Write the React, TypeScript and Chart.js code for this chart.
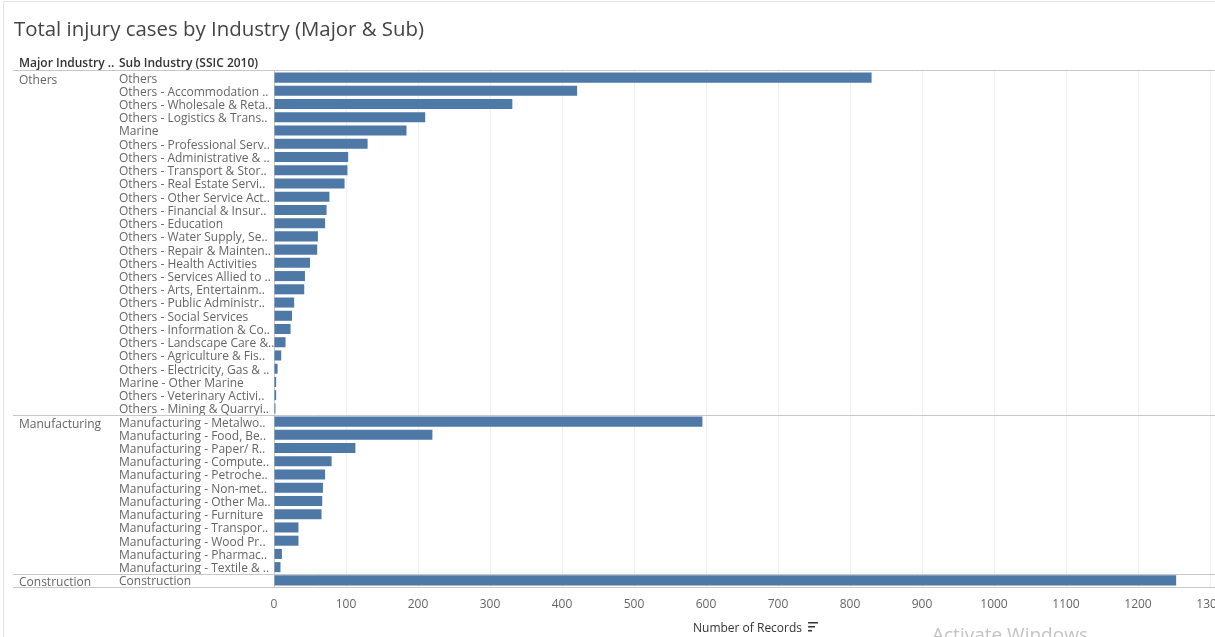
import { useEffect, useRef } from 'react';
import { Chart, registerables } from 'chart.js';

Chart.register(...registerables);

const chartTitle = 'Total injury cases by Industry (Major & Sub)';
const headerMajor = 'Major Industry ..';
const headerSub = 'Sub Industry (SSIC 2010)';
const axisTitle = 'Number of Records';

const majorIndustries = ['Others', 'Manufacturing', 'Construction'];
const majorRowCounts = [26, 12, 1];

const subIndustries = [
  'Others',
  'Others - Accommodation ..',
  'Others - Wholesale & Reta..',
  'Others - Logistics & Trans..',
  'Marine',
  'Others - Professional Serv..',
  'Others - Administrative & ..',
  'Others - Transport & Stor..',
  'Others - Real Estate Servi..',
  'Others - Other Service Act..',
  'Others - Financial & Insur..',
  'Others - Education',
  'Others - Water Supply, Se..',
  'Others - Repair & Mainten..',
  'Others - Health Activities',
  'Others - Services Allied to ..',
  'Others - Arts, Entertainm..',
  'Others - Public Administr..',
  'Others - Social Services',
  'Others - Information & Co..',
  'Others - Landscape Care &..',
  'Others - Agriculture & Fis..',
  'Others - Electricity, Gas & ..',
  'Marine - Other Marine',
  'Others - Veterinary Activi..',
  'Others - Mining & Quarryi..',
  'Manufacturing - Metalwo..',
  'Manufacturing - Food, Be..',
  'Manufacturing - Paper/ R..',
  'Manufacturing - Compute..',
  'Manufacturing - Petroche..',
  'Manufacturing - Non-met..',
  'Manufacturing - Other Ma..',
  'Manufacturing - Furniture',
  'Manufacturing - Transpor..',
  'Manufacturing - Wood Pr..',
  'Manufacturing - Pharmac..',
  'Manufacturing - Textile & ..',
  'Construction',
];

const recordCounts = [
  830, 421, 331, 210, 184, 130, 103, 102, 98, 77, 73, 71, 61, 60, 50, 43, 42, 28, 25, 23, 16, 10, 5, 3, 3, 2,
  595, 220, 113, 80, 71, 68, 67, 66, 34, 34, 11, 9,
  1253,
];

const xMin = 0;
const xMax = 1300;
const xStep = 100;

const FONT = '"Open Sans", "Noto Sans", sans-serif';
const W = 1215;
const H = 637;

const decorPlugin = {
  id: 'decor',
  afterDraw(chart: any) {
    const ctx = chart.ctx as CanvasRenderingContext2D;
    const { top, bottom } = chart.chartArea;
    const rowH = (bottom - top) / subIndustries.length;
    ctx.save();

    // outer frame
    ctx.strokeStyle = '#e3e3e3';
    ctx.lineWidth = 1;
    ctx.beginPath();
    ctx.moveTo(3.5, H);
    ctx.lineTo(3.5, 1.5);
    ctx.lineTo(W, 1.5);
    ctx.stroke();

    // title
    ctx.textAlign = 'left';
    ctx.textBaseline = 'middle';
    ctx.fillStyle = '#444444';
    ctx.font = `20.4px ${FONT}`;
    ctx.fillText(chartTitle, 14, 30);

    // headers
    ctx.fillStyle = '#333333';
    ctx.font = `600 12px ${FONT}`;
    ctx.fillText(headerMajor, 19, 63.5);
    ctx.fillText(headerSub, 119, 63.5);

    // separators + major labels
    const hline = (y: number) => {
      const yy = Math.round(y) + 0.5;
      ctx.beginPath();
      ctx.moveTo(13, yy);
      ctx.lineTo(W, yy);
      ctx.stroke();
    };
    ctx.strokeStyle = '#c8c8c8';
    hline(top - 1);
    ctx.fillStyle = '#666666';
    ctx.font = `12px ${FONT}`;
    let row = 0;
    majorIndustries.forEach((m, i) => {
      const rowTop = top + row * rowH;
      ctx.fillText(m, 19, rowTop + (majorRowCounts[i] > 1 ? 10 : 9));
      row += majorRowCounts[i];
      hline(top + row * rowH);
    });

    // axis title with sort icon
    ctx.fillStyle = '#333333';
    ctx.font = `12px ${FONT}`;
    ctx.fillText(axisTitle, 693, 628.5);
    const tw = ctx.measureText(axisTitle).width;
    const ix = 693 + tw + 6;
    ctx.fillRect(ix, 622, 10, 1.5);
    ctx.fillRect(ix, 626, 7, 1.5);
    ctx.fillRect(ix, 630, 4, 1.5);

    // watermark
    ctx.fillStyle = '#c4c4c4';
    ctx.font = `19px "Open Sans", sans-serif`;
    ctx.textBaseline = 'alphabetic';
    ctx.fillText('Activate Windows', 932, 641);

    ctx.restore();
  },
};

export default function App() {
  const ref = useRef<HTMLCanvasElement>(null);

  useEffect(() => {
    const canvas = ref.current;
    if (!canvas) return;
    const chart = new Chart(canvas, {
      type: 'bar',
      data: {
        labels: subIndustries,
        datasets: [
          {
            data: recordCounts,
            backgroundColor: '#4e79a7',
            barPercentage: 0.76,
            categoryPercentage: 1,
          },
        ],
      },
      options: {
        indexAxis: 'y',
        responsive: false,
        animation: false,
        devicePixelRatio: 1,
        layout: { padding: { left: 119, right: 5, top: 71, bottom: 0 } },
        plugins: {
          legend: { display: false },
          tooltip: { enabled: false },
          title: { display: false },
        },
        scales: {
          y: {
            type: 'category',
            grid: { display: false },
            border: { display: false },
            ticks: {
              crossAlign: 'far',
              color: '#666666',
              font: { family: FONT, size: 12 },
              padding: 0,
              labelOffset: 1.5,
              autoSkip: false,
            },
            afterFit: (s: any) => {
              s.width = 155;
              s.paddingTop = 0;
              s.paddingBottom = 0;
            },
          },
          x: {
            type: 'linear',
            min: xMin,
            max: xMax,
            position: 'bottom',
            grid: {
              drawTicks: false,
              color: (c: any) => (c.tick && c.tick.value === 0 ? '#c8c8c8' : '#efefef'),
            },
            border: { display: false },
            ticks: {
              stepSize: xStep,
              color: '#666666',
              font: { family: FONT, size: 12 },
              padding: 10.5,
              maxRotation: 0,
              autoSkip: false,
              callback: (v: any) => String(v),
            },
            afterFit: (s: any) => {
              s.height = 50;
              s.paddingLeft = 0;
              s.paddingRight = 0;
            },
          },
        },
      },
      plugins: [decorPlugin],
    } as any);
    return () => chart.destroy();
  }, []);

  return (
    <div style={{ position: 'absolute', left: 0, top: 0, width: W, height: H, background: '#ffffff' }}>
      <canvas ref={ref} width={W} height={H} style={{ display: 'block', width: W, height: H }} />
    </div>
  );
}
